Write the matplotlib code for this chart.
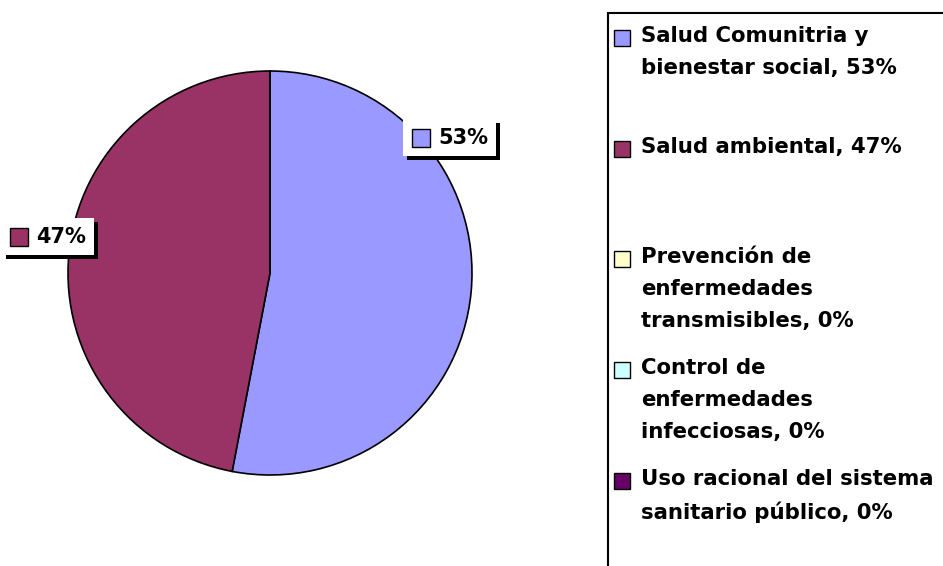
import matplotlib
matplotlib.use("Agg")
import matplotlib.pyplot as plt
from matplotlib.patches import Rectangle
from matplotlib.offsetbox import AnnotationBbox, HPacker, TextArea, DrawingArea
import matplotlib.patheffects as pe

categories = [
    "Salud Comunitria y\nbienestar social",
    "Salud ambiental",
    "Prevención de\nenfermedades\ntransmisibles",
    "Control de\nenfermedades\ninfecciosas",
    "Uso racional del sistema\nsanitario público",
]
values = [53, 47, 0, 0, 0]
colors = ["#9999FF", "#993366", "#FFFFCC", "#CCFFFF", "#660066"]

W, H = 943, 566
fig = plt.figure(figsize=(W / 100, H / 100), dpi=100)
fig.patch.set_facecolor("white")

FONT = ["DejaVu Sans"]

# pie axes (square in pixels)
cx, cy, r = 270, 273, 202
ax = fig.add_axes([(cx - r) / W, (H - cy - r) / H, 2 * r / W, 2 * r / H])
wedges, _ = ax.pie(values, colors=colors, startangle=90, counterclock=False,
                   wedgeprops=dict(edgecolor="black", linewidth=1.2))
ax.set_xlim(-1, 1)
ax.set_ylim(-1, 1)
ax.set_aspect("auto")
ax.axis("off")

# data labels (boxes with shadow)
label_pos = {0: (0.89, 0.67), 1: (-1.1, 0.18)}
for i, (v, c) in enumerate(zip(values, colors)):
    if v == 0:
        continue
    da = DrawingArea(13, 13, 0, 0)
    da.add_artist(Rectangle((0, 0), 13, 13, facecolor=c, edgecolor="black", linewidth=1))
    ta = TextArea(f"{v}%", textprops=dict(fontsize=15, fontweight="bold", family=FONT, color="black"))
    box = HPacker(children=[da, ta], align="center", pad=0, sep=6)
    ab = AnnotationBbox(box, label_pos[i], xycoords="data", frameon=True,
                        pad=0.6, box_alignment=(0.5, 0.5), annotation_clip=False,
                        bboxprops=dict(facecolor="white", edgecolor="white", linewidth=0))
    ab.patch.set_path_effects([pe.withSimplePatchShadow(offset=(3, -3), shadow_rgbFace="black", alpha=1.0), pe.Normal()])
    ax.add_artist(ab)

# legend frame
fx0, fy0 = 608, 13
fig.add_artist(Rectangle((fx0 / W, -0.1), 1.2, 1.1 - fy0 / H, transform=fig.transFigure,
                         fill=False, edgecolor="black", linewidth=1.5))

# legend entries (uniform spacing like the source chart)
y0, dy = 38, 110.7
msize = 16
for i, (cat, v, c) in enumerate(zip(categories, values, colors)):
    yc = y0 + i * dy
    fig.add_artist(Rectangle(((622 - msize / 2) / W, (H - yc - msize / 2) / H), msize / W, msize / H,
                             transform=fig.transFigure, facecolor=c, edgecolor="black", linewidth=1))
    fig.text(641 / W, (H - yc + 12) / H, f"{cat}, {v}%", ha="left", va="top",
             fontsize=15.3, fontweight="bold", family=FONT, color="black", linespacing=1.74)

fig.savefig("out.png", dpi=100, facecolor="white")
